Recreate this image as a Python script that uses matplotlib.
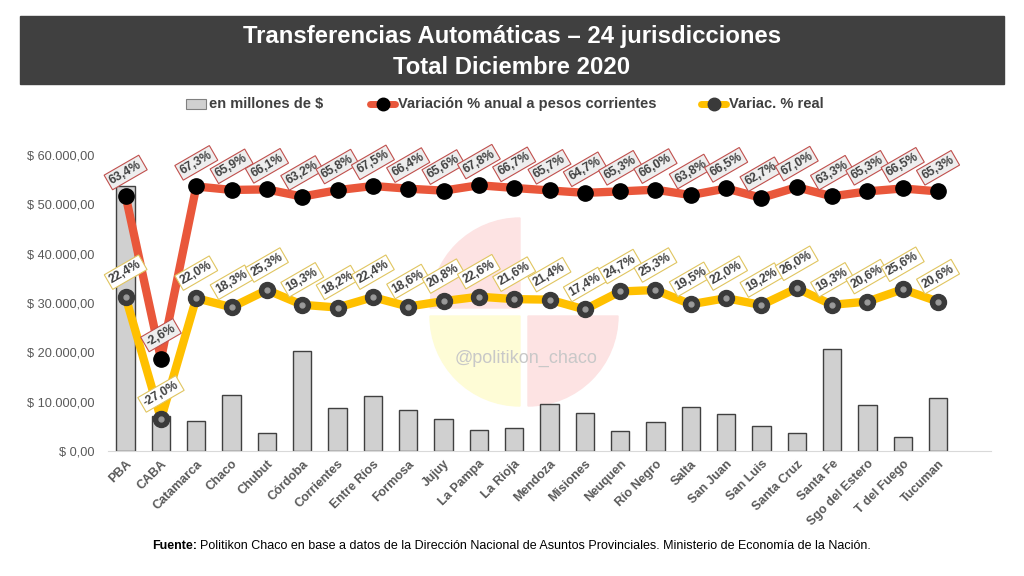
import numpy as np
import matplotlib
matplotlib.use('Agg')
import matplotlib.pyplot as plt
from matplotlib.patches import Rectangle, Wedge
from matplotlib.ticker import FuncFormatter

plt.rcParams['font.family'] = ['Liberation Sans', 'DejaVu Sans']

# data
provincias = ['PBA', 'CABA', 'Catamarca', 'Chaco', 'Chubut', 'Córdoba', 'Corrientes',
              'Entre Ríos', 'Formosa', 'Jujuy', 'La Pampa', 'La Rioja', 'Mendoza',
              'Misiones', 'Neuquen', 'Río Negro', 'Salta', 'San Juan', 'San Luis',
              'Santa Cruz', 'Santa Fe', 'Sgo del Estero', 'T del Fuego', 'Tucuman']
millones = [53800, 7000, 6100, 11400, 3600, 20200, 8700, 11100, 8300, 6400, 4300, 4600,
            9500, 7700, 4000, 5800, 8900, 7600, 5100, 3600, 20700, 9300, 2800, 10800]
var_nominal = [63.4, -2.6, 67.3, 65.9, 66.1, 63.2, 65.8, 67.5, 66.4, 65.6, 67.8, 66.7,
               65.7, 64.7, 65.3, 66.0, 63.8, 66.5, 62.7, 67.0, 63.3, 65.3, 66.5, 65.3]
var_real = [22.4, -27.0, 22.0, 18.3, 25.3, 19.3, 18.2, 22.4, 18.6, 20.8, 22.6, 21.6,
            21.4, 17.4, 24.7, 25.3, 19.5, 22.0, 19.2, 26.0, 19.3, 20.6, 25.6, 20.6]

ROJO = '#E9573B'
AMARILLO = '#FFC000'
GRIS_TXT = '#595959'

fig = plt.figure(figsize=(10.24, 5.76), dpi=100)
fig.patch.set_facecolor('white')

# overlay in pixel coords (y down) for title, legend, footer and watermark
bg = fig.add_axes([0, 0, 1, 1], zorder=0)
bg.set_xlim(0, 1024)
bg.set_ylim(576, 0)
bg.axis('off')

bg.add_patch(Rectangle((20, 16), 984, 68, color='#404040'))
bg.text(512, 37, 'Transferencias Automáticas – 24 jurisdicciones', color='white',
        fontsize=17.2, fontweight='bold', ha='center', va='center')
bg.text(512, 67, 'Total Diciembre 2020', color='white',
        fontsize=17.2, fontweight='bold', ha='center', va='center')

# watermark logo (angles flipped because y is inverted)
cx, cy, r = 524, 312, 90
bg.add_patch(Wedge((cx - 4, cy - 4), r, 180, 270, color='#fde3e3'))
bg.add_patch(Wedge((cx - 4, cy + 4), r, 90, 180, color='#fefcd6'))
bg.add_patch(Wedge((cx + 4, cy + 4), r, 0, 90, color='#fde3e3'))
bg.text(526, 358, '@politikon_chaco', color='#c8c8c8', fontsize=13,
        ha='center', va='center')

# legend
ly = 104
bg.add_patch(Rectangle((186, ly - 5), 20, 10, facecolor='#d0d0d0', edgecolor='#808080', lw=0.8))
bg.text(209, ly, 'en millones de $', color='#404040', fontsize=10.5, fontweight='bold', va='center')
bg.plot([370, 395], [ly, ly], color=ROJO, lw=5, solid_capstyle='round')
bg.plot([382.5], [ly], 'o', color='black', ms=9)
bg.text(398, ly, 'Variación % anual a pesos corrientes', color='#404040', fontsize=10.5,
        fontweight='bold', va='center')
bg.plot([701, 726], [ly, ly], color=AMARILLO, lw=5, solid_capstyle='round')
bg.plot([713.5], [ly], 'o', color='#3a3a3a', ms=9)
bg.text(729, ly, 'Variac. % real', color='#404040', fontsize=10.5, fontweight='bold', va='center')

# footer
bg.text(152, 546, 'Fuente:', fontsize=9, fontweight='bold', color='black', va='center')
bg.text(200, 546, 'Politikon Chaco en base a datos de la Dirección Nacional de Asuntos '
        'Provinciales. Ministerio de Economía de la Nación.', fontsize=9,
        color='black', va='center')

# main chart
ax = fig.add_axes([108 / 1024, 125 / 576, 883 / 1024, 305.7 / 576], zorder=1)
ax.patch.set_alpha(0)
x = np.arange(len(provincias))
ax.bar(x, millones, width=0.52, color='#d0d0d0', edgecolor='#404040', linewidth=1, zorder=2)
ax.set_xlim(-0.5, 24.5)
ax.set_ylim(0, 62000)
ax.set_yticks(np.arange(0, 60001, 10000))
ax.yaxis.set_major_formatter(FuncFormatter(
    lambda v, p: '$ ' + f'{v:,.2f}'.replace(',', 'X').replace('.', ',').replace('X', '.')))
ax.tick_params(axis='y', length=0, labelsize=9.2, labelcolor=GRIS_TXT, pad=10)
ax.set_xticks(x)
ax.set_xticklabels(provincias, rotation=45, ha='right', rotation_mode='anchor',
                   fontsize=9, fontweight='bold', color=GRIS_TXT)
ax.tick_params(axis='x', length=0, pad=5)
for s in ['top', 'right', 'left']:
    ax.spines[s].set_visible(False)
ax.spines['bottom'].set_color('#d9d9d9')

# percentages on a hidden secondary axis
ax2 = ax.twinx()
ax2.set_ylim(-40, 84)
ax2.axis('off')
ax2.plot(x, var_nominal, color=ROJO, lw=6, zorder=3)
ax2.plot(x, var_nominal, 'o', color='black', ms=11, zorder=4)
ax2.plot(x, var_real, color=AMARILLO, lw=6, zorder=3)
ax2.plot(x, var_real, 'o', color='#3a3a3a', ms=11.5, zorder=4)
ax2.plot(x, var_real, 'o', color='#9a9a9a', ms=3.5, zorder=5)

def pct(v):
    return f'{v:.1f}%'.replace('.', ',')

for xi, v in zip(x, var_nominal):
    ax2.annotate(pct(v), (xi, v), xytext=(0, 17), textcoords='offset points',
                 ha='center', va='center', rotation=30, fontsize=8.8, fontweight='bold',
                 color='#404040', zorder=6,
                 bbox=dict(boxstyle='square,pad=0.2', fc='#eeeeee', ec='#c0504d', lw=0.8))
for xi, v in zip(x, var_real):
    ax2.annotate(pct(v), (xi, v), xytext=(0, 18), textcoords='offset points',
                 ha='center', va='center', rotation=30, fontsize=8.8, fontweight='bold',
                 color='#404040', zorder=6,
                 bbox=dict(boxstyle='square,pad=0.2', fc='white', ec='#e0c560', lw=0.8))

fig.savefig('out.png', dpi=100)
